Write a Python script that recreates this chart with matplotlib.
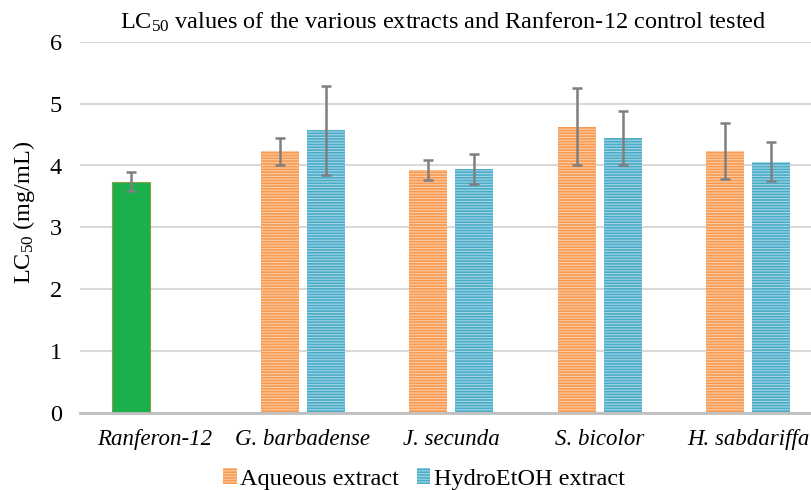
"""LC50 of the plant extracts vs the Ranferon-12 control, clustered bars with error bars."""

import matplotlib
import numpy as np

matplotlib.use("Agg")
import matplotlib.pyplot as plt
from matplotlib.patches import Patch

categories = ["Ranferon-12", "G. barbadense", "J. secunda", "S. bicolor", "H. sabdariffa"]
control_value = 3.74
control_err = 0.15
aqueous = [4.23, 3.93, 4.63, 4.23]
aqueous_err = [0.22, 0.165, 0.62, 0.455]
hydro = [4.57, 3.94, 4.44, 4.06]
hydro_err = [0.72, 0.245, 0.44, 0.315]

ORANGE = "#F89A50"
BLUE = "#4AACC8"
GREEN = "#1CB04C"
ERR = "#7F7F7F"

plt.rcParams["font.family"] = ["Liberation Serif", "DejaVu Serif"]
plt.rcParams["mathtext.fontset"] = "custom"
plt.rcParams["mathtext.rm"] = "Liberation Serif"
plt.rcParams["mathtext.it"] = "Liberation Serif:italic"
plt.rcParams["hatch.linewidth"] = 0.8

fig = plt.figure(figsize=(8.11, 4.9), dpi=100)
# the plot runs a little past the right edge of the canvas
ax = fig.add_axes([80 / 811, 77.5 / 490, 742.5 / 811, 370.5 / 490])

width = 0.259
off = 0.155
x = np.arange(1, len(categories))


def striped_bars(xpos, vals, errs, color):
    ax.bar(xpos, vals, width, color=color, linewidth=0, zorder=2)
    ax.bar(xpos, vals, width, facecolor="none", edgecolor=(1, 1, 1, 0.5),
           hatch="------", linewidth=0, zorder=3)
    ax.errorbar(xpos, vals, yerr=errs, fmt="none", ecolor=ERR, elinewidth=1.8,
                capsize=3.8, capthick=1.8, zorder=4)


ax.bar(0 - off, control_value, width, color=GREEN, edgecolor="#8C9B45",
       linewidth=0.8, zorder=2)
ax.errorbar(0 - off, control_value, yerr=control_err, fmt="none", ecolor=ERR,
            elinewidth=1.8, capsize=3.8, capthick=1.8, zorder=4)
striped_bars(x - off, aqueous, aqueous_err, ORANGE)
striped_bars(x + off, hydro, hydro_err, BLUE)

ax.set_xlim(-0.5, len(categories) - 0.5)
ax.set_ylim(0, 6)
ax.set_yticks(range(0, 7))
ax.yaxis.grid(True, color="#D9D9D9", linewidth=1.5, zorder=0)
ax.set_axisbelow(True)
for side in ("top", "right", "left"):
    ax.spines[side].set_visible(False)
ax.spines["bottom"].set_color("#BFBFBF")
ax.spines["bottom"].set_linewidth(2)
ax.spines["bottom"].set_zorder(5)
ax.tick_params(axis="y", length=0, pad=13, labelsize=17.5)
ax.tick_params(axis="x", length=0, pad=12, labelsize=16.5)
ax.set_xticks(range(len(categories)))
ax.set_xticklabels(categories, style="italic")

fig.text(443 / 811, 1 - 22 / 490,
         r"LC$_{50}$ values of the various extracts and Ranferon-12 control tested",
         ha="center", va="center", fontsize=17.5)
fig.text(24 / 811, 1 - 212 / 490, r"LC$_{50}$ (mg/mL)", rotation=90,
         ha="center", va="center", fontsize=17.5)

handles = [
    Patch(facecolor=ORANGE, edgecolor=(1, 1, 1, 0.5), hatch="------", linewidth=0),
    Patch(facecolor=BLUE, edgecolor=(1, 1, 1, 0.5), hatch="------", linewidth=0),
]
fig.legend(handles, ["Aqueous extract", "HydroEtOH extract"], loc="center",
           bbox_to_anchor=(424 / 811, 1 - 479 / 490), ncol=2, frameon=False,
           fontsize=17.5, handlelength=0.55, handleheight=0.6, handletextpad=0.15,
           columnspacing=0.7, borderaxespad=0)

fig.savefig("out.png")
plt.close(fig)
